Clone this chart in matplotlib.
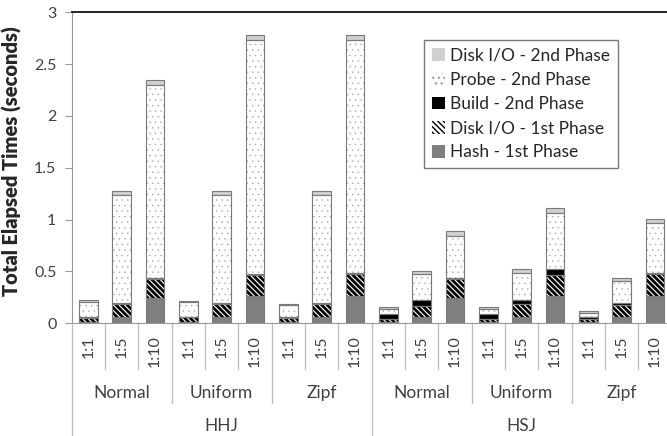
import matplotlib
matplotlib.use('Agg')
import matplotlib.pyplot as plt
import matplotlib.transforms as mtransforms
import numpy as np

plt.rcParams['font.family'] = ['Lato', 'DejaVu Sans']

ratios = ['1:1', '1:5', '1:10'] * 6
dists = ['Normal', 'Uniform', 'Zipf'] * 2
algos = ['HHJ', 'HSJ']

# seconds, one value per bar (HHJ normal/uniform/zipf, then HSJ)
hash_1st = [0.015, 0.06, 0.24, 0.015, 0.06, 0.26, 0.015, 0.06, 0.26,
            0.01, 0.065, 0.245, 0.01, 0.065, 0.26, 0.01, 0.065, 0.26]
disk_1st = [0.04, 0.125, 0.19, 0.045, 0.125, 0.21, 0.04, 0.125, 0.22,
            0.03, 0.105, 0.185, 0.03, 0.12, 0.21, 0.035, 0.11, 0.215]
build_2nd = [0.005, 0.01, 0.01, 0.005, 0.01, 0.01, 0.005, 0.01, 0.01,
             0.045, 0.055, 0.01, 0.05, 0.04, 0.05, 0.015, 0.02, 0.013]
probe_2nd = [0.15, 1.045, 1.86, 0.14, 1.045, 2.25, 0.12, 1.045, 2.24,
             0.05, 0.255, 0.40, 0.045, 0.265, 0.54, 0.035, 0.215, 0.476]
disk_2nd = [0.01, 0.035, 0.05, 0.01, 0.035, 0.055, 0.01, 0.035, 0.055,
            0.02, 0.025, 0.048, 0.02, 0.03, 0.052, 0.02, 0.03, 0.046]

# label, values, face, hatch, hatch colour, hatch width
series = [
    ('Hash - 1st Phase', hash_1st, '#7f7f7f', None, '#7f7f7f', 1.0),
    ('Disk I/O - 1st Phase', disk_1st, 'white', '\\\\\\\\\\\\', 'black', 2.0),
    ('Build - 2nd Phase', build_2nd, 'black', None, 'black', 1.0),
    ('Probe - 2nd Phase', probe_2nd, 'white', '...', '#a6a6a6', 0.3),
    ('Disk I/O - 2nd Phase', disk_2nd, '#d0d0d0', None, '#d0d0d0', 1.0),
]

W, H = 667, 436
fig = plt.figure(figsize=(W / 100, H / 100), dpi=100)
ax_l, ax_r, ax_t, ax_b = 71.7, 671.7, 12.3, 323.3
ax = fig.add_axes([ax_l / W, 1 - ax_b / H, (ax_r - ax_l) / W, (ax_b - ax_t) / H])

x = np.arange(len(ratios))
bw = 0.56
bottom = np.zeros(len(x))
handles = []
for label, vals, fc, hatch, hc, hlw in series:
    vals = np.array(vals)
    plt.rcParams['hatch.linewidth'] = hlw
    b = ax.bar(x, vals, bw, bottom=bottom, color=fc, hatch=hatch,
               edgecolor=hc, linewidth=0, label=label, zorder=2)
    # gray outline on top of each segment
    ax.bar(x, vals, bw, bottom=bottom, fill=False, edgecolor='#7a7a7a',
           linewidth=0.8, zorder=3)
    handles.append(b)
    bottom += vals

ax.set_xlim(-0.5, len(x) - 0.5)
ax.set_ylim(0, 3)
ax.set_yticks(np.arange(0, 3.01, 0.5))
ax.set_yticklabels(['0', '0.5', '1', '1.5', '2', '2.5', '3'])
ax.tick_params(axis='y', length=5, color='#9a9a9a', labelsize=11.5,
               labelcolor='#404040', pad=6)
ax.set_xticks([])
for s in ['left', 'bottom']:
    ax.spines[s].set_color('#9a9a9a')
ax.spines['top'].set_color('black')
ax.spines['top'].set_linewidth(1.2)
ax.spines['right'].set_visible(False)

ax.set_ylabel('Total Elapsed Times (seconds)', fontsize=14.5, fontweight='heavy',
              color='#262626', labelpad=6)
ax.yaxis.set_label_coords(-0.083, 0.52)

# hierarchical category axis
tr = mtransforms.blended_transform_factory(ax.transData, ax.transAxes)
hpx = ax_b - ax_t


def ya(py):
    return (ax_b - py) / hpx


for i, r in enumerate(ratios):
    ax.text(i, ya(335), r, rotation=90, ha='center', va='top', fontsize=11.5,
            color='#404040', transform=tr)
for i in range(len(x) + 1):
    if i % 9 == 0:
        low = ya(436)
    elif i % 3 == 0:
        low = ya(403)
    else:
        low = ya(369)
    ax.plot([i - 0.5, i - 0.5], [0, low], color='#bdbdbd', lw=0.9,
            transform=tr, clip_on=False)
for j, d in enumerate(dists):
    ax.text(3 * j + 1, ya(393), d, ha='center', va='center', fontsize=12.5,
            color='#404040', transform=tr)
for k, a in enumerate(algos):
    ax.text(9 * k + 4, ya(426), a, ha='center', va='center', fontsize=12.5,
            color='#404040', transform=tr)

leg = ax.legend(handles[::-1], [h.get_label() for h in handles[::-1]],
                loc='upper left', bbox_to_anchor=((424 - ax_l) / 600, 1 - (40 - ax_t) / hpx),
                fontsize=12.5, frameon=True, fancybox=False, handlelength=0.75,
                handleheight=0.75, handletextpad=0.3, labelspacing=0.47,
                borderpad=0.45, borderaxespad=0, labelcolor='#262626')
leg.get_frame().set_edgecolor('#595959')
leg.get_frame().set_linewidth(1.0)

fig.savefig('out.png', dpi=100)
